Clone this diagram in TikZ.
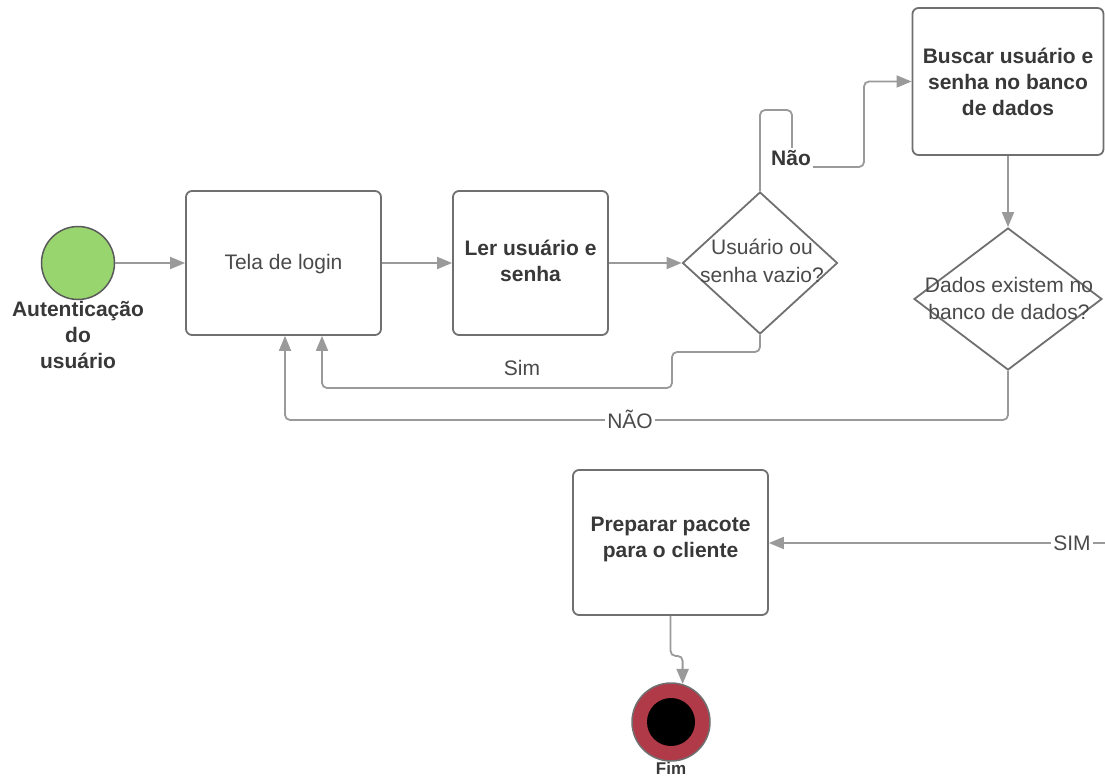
\documentclass[tikz,border=0pt]{standalone}
\usepackage{fontspec}
\setmainfont{Liberation Sans}
\usetikzlibrary{arrows.meta,shapes.geometric,calc}
\definecolor{linegray}{HTML}{9A9A9A}
\definecolor{boxgray}{HTML}{707070}
\definecolor{txtdark}{HTML}{383838}
\definecolor{txtreg}{HTML}{4A4A4A}
\definecolor{startgreen}{HTML}{99D56E}
\definecolor{endred}{HTML}{B03A48}

\begin{document}
\begin{tikzpicture}[x=1pt,y=-1pt,
  font=\fontsize{21}{26}\selectfont,
  box/.style={draw=boxgray, line width=1.8pt, rounded corners=6pt, fill=white,
    inner sep=0pt},
  decision/.style={diamond, draw=boxgray, line width=1.8pt, fill=white,
    inner sep=0pt},
  regtxt/.style={text=txtreg, align=center, inner sep=1pt},
  boldtxt/.style={text=txtdark, align=center, inner sep=1pt, font=\fontsize{21}{26}\selectfont\bfseries},
  conn/.style={draw=linegray, line width=1.8pt, rounded corners=5pt,
    -{Triangle[length=15pt,width=12pt]}},
  onwhite/.style={fill=white, inner sep=2pt}
]
\fill[white] (0,0) rectangle (1105,776);
\useasboundingbox (0,0) rectangle (1105,776);

% start event
\node[circle, draw=boxgray!80!black, line width=1.5pt, fill=startgreen,
  minimum size=73pt, inner sep=0pt] (start) at (78,263) {};
\node[boldtxt] (startlbl) at (78,335) {Autenticação\\do\\usuário};

% process boxes
\node[box, minimum width=195, minimum height=144] (tela) at (283.5,263) {};
\node[regtxt] at (tela) [yshift=-1pt] {Tela de login};
\node[box, minimum width=155, minimum height=144] (ler) at (530.5,263) {};
\node[boldtxt] at (ler.center) [yshift=2pt] {Ler usuário e\\senha};
\node[box, minimum width=191, minimum height=147] (busca) at (1008,81.5) {};
\node[boldtxt] at (busca) {Buscar usuário e\\senha no banco\\de dados};
\node[box, minimum width=195, minimum height=145] (prep) at (670.5,542.5) {};
\node[boldtxt] at (prep.center) [yshift=3pt] {Preparar pacote\\para o cliente};

% decisions
\node[decision, minimum width=155, minimum height=142] (d1) at (760,263) {};
\node[regtxt, font=\fontsize{21}{28}\selectfont] at (d1) [xshift=2pt, yshift=2pt] {Usuário ou\\senha vazio?};
\node[decision, minimum width=188, minimum height=142] (d2) at (1008,299) {};
\node[regtxt, font=\fontsize{21}{27}\selectfont] at (d2) [xshift=1pt, yshift=1pt] {Dados existem no\\banco de dados?};

% end event
\node[circle, draw=boxgray, line width=1.5pt, fill=endred,
  minimum size=78pt, inner sep=0pt] (fim) at (671,722) {};
\node[circle, fill=black, minimum size=48pt, inner sep=0pt] (fimcore) at (fim) {};
\node[boldtxt, font=\fontsize{17}{20}\selectfont\bfseries, inner sep=0pt] (fimlbl) at (671,768) {Fim};

% main flow
\draw[conn] (start.east) -- (start.east -| tela.west);
\draw[conn] (tela.east) -- (ler.west);
\draw[conn] (ler.east) -- (d1.west);

% empty fields: back to login
\coordinate (simx) at (322,388);
\draw[conn] (d1.south) |- (672,352) |- (simx) -- (simx |- tela.south);
\node[regtxt] (simlbl) at (522,368) {Sim};

% fields filled: look up the database
\draw[conn] (d1.north) |- (792,110) |- (864,167) |- (busca.west);
\node[boldtxt, onwhite] (naolbl) at (791,158) {Não};

\draw[conn] (busca.south) -- (d2.north);

% credentials not found: back to login
\coordinate (naox) at (285,420);
\draw[conn] (d2.south) |- (naox) -- (naox |- tela.south);
\node[regtxt, onwhite] (naolbl2) at (630,419) {NÃO};

% credentials found
\coordinate (simsrc) at (1106,543);
\draw[conn] (simsrc) -- (simsrc -| prep.east);
\node[regtxt, onwhite] (simlbl2) at (1072,543) {SIM};

\draw[conn] (prep.south) -- ++(0,40) -| (fim.73);
\end{tikzpicture}
\end{document}
